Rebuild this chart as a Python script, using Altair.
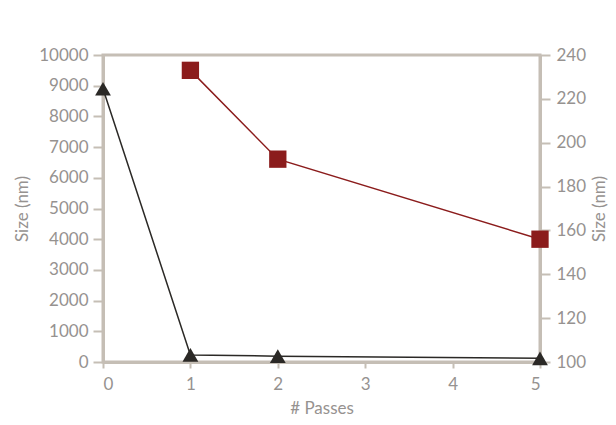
import altair as alt
import pandas as pd

passes_black = [0, 1, 2, 5]
size_black = [8900, 230, 190, 120]
passes_red = [1, 2, 5]
size_red = [233, 192.5, 156]

df_b = pd.DataFrame({"passes": passes_black, "size": size_black})
df_r = pd.DataFrame({"passes": passes_red, "size": size_red})

AX = "#c5beb5"
TXT = "#969290"
FONT = "Lato"
LFS = 17
TFS = 17

xenc = alt.X("passes:Q", title="# Passes",
             scale=alt.Scale(domain=[0, 5], nice=False, zero=False),
             axis=alt.Axis(values=[0, 1, 2, 3, 4, 5], format="d", grid=False,
                           domainColor=AX, domainWidth=3, tickColor=AX, tickWidth=2,
                           tickSize=6, labelColor=TXT, labelFont=FONT, labelFontSize=LFS,
                           labelPadding=8, titleColor=TXT, titleFont=FONT, titleFontSize=TFS,
                           titleFontWeight="normal", titlePadding=8))

black = alt.Chart(df_b).mark_line(color="#2b2926", strokeWidth=1.5,
                                  point=alt.OverlayMarkDef(shape="triangle-up", size=250,
                                                           filled=True, color="#2b2926", opacity=1)).encode(
    x=xenc,
    y=alt.Y("size:Q", title="Size (nm)",
            scale=alt.Scale(domain=[0, 10000], nice=False),
            axis=alt.Axis(values=list(range(0, 10001, 1000)), format="d", grid=False, orient="left",
                          domainColor=AX, domainWidth=3, tickColor=AX, tickWidth=2, tickSize=10,
                          labelColor=TXT, labelFont=FONT, labelFontSize=LFS, labelPadding=5,
                          titleColor=TXT, titleFont=FONT, titleFontSize=TFS,
                          titleFontWeight="normal", titlePadding=7))
)

red = alt.Chart(df_r).mark_line(color="#8b1c1c", strokeWidth=1.5,
                                point=alt.OverlayMarkDef(shape="square", size=300,
                                                         filled=True, color="#8b1c1c", opacity=1)).encode(
    x=xenc,
    y=alt.Y("size:Q", title="Size (nm)",
            scale=alt.Scale(domain=[100, 240], nice=False, zero=False),
            axis=alt.Axis(values=list(range(100, 241, 20)), format="d", grid=False, orient="right",
                          domainColor=AX, domainWidth=3, tickColor=AX, tickWidth=2, tickSize=10,
                          labelColor=TXT, labelFont=FONT, labelFontSize=LFS, labelPadding=6,
                          titleColor=TXT, titleFont=FONT, titleFontSize=TFS, titleAngle=270,
                          titleBaseline="top", titleFontWeight="normal", titlePadding=6))
)

chart = alt.layer(black, red).resolve_scale(y="independent").properties(
    width=437, height=307,
    padding={"left": 5, "top": 38, "right": 0, "bottom": 5},
    background="white",
).configure_view(stroke=AX, strokeWidth=3)

chart.save("out.html", embed_options={"renderer": "svg", "actions": False})
